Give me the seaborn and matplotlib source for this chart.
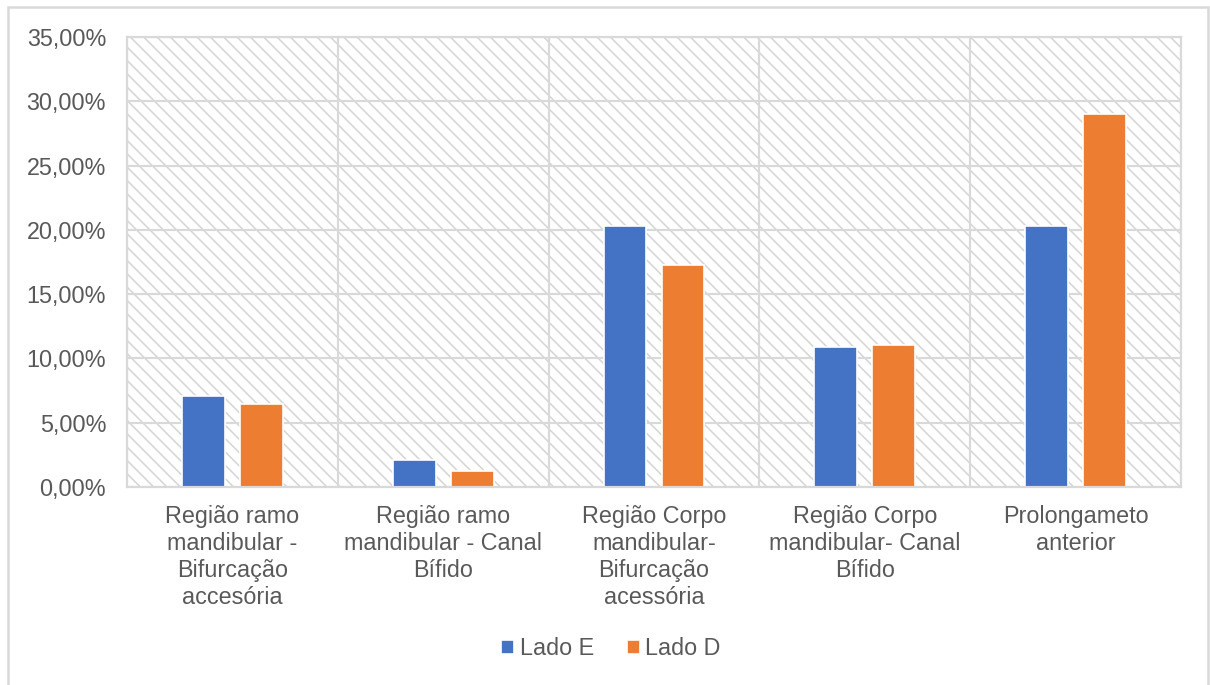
import matplotlib
matplotlib.use("Agg")
import matplotlib.pyplot as plt
from matplotlib.patches import Rectangle
from matplotlib.ticker import FuncFormatter, MultipleLocator, FixedLocator
import pandas as pd
import seaborn as sns

categorias = [
    "Região ramo\nmandibular -\nBifurcação\naccesória",
    "Região ramo\nmandibular - Canal\nBífido",
    "Região Corpo\nmandibular-\nBifurcação\nacessória",
    "Região Corpo\nmandibular- Canal\nBífido",
    "Prolongameto\nanterior",
]
lado_e = [7.10, 2.10, 20.30, 10.90, 20.30]
lado_d = [6.45, 1.25, 17.25, 11.05, 29.05]
series = ["Lado E", "Lado D"]
cores = ["#4472C4", "#ED7D31"]

df = pd.DataFrame({
    "categoria": categorias * 2,
    "valor": lado_e + lado_d,
    "lado": [series[0]] * len(categorias) + [series[1]] * len(categorias),
})

sns.set_theme(style="white")
plt.rcParams["font.family"] = ["Liberation Sans", "DejaVu Sans"]
plt.rcParams["hatch.linewidth"] = 0.9
texto = "#595959"
cinza = "#d9d9d9"

fig = plt.figure(figsize=(1210 / 120, 685 / 120), dpi=120)
ax = fig.add_axes([127 / 1210, 198 / 685, (1181 - 127) / 1210, (487 - 37) / 685])

# hatched plot area background
ax.add_patch(Rectangle((0, 0), 1, 1, transform=ax.transAxes, facecolor="white",
                       edgecolor="#d4d4d4", hatch="\\\\\\", linewidth=0, zorder=0.1))

sns.barplot(data=df, x="categoria", y="valor", hue="lado", palette=cores,
            width=0.55, gap=0.26, ax=ax, zorder=2, saturation=1)

ax.set_xlim(-0.5, len(categorias) - 0.5)
ax.set_ylim(0, 35)
ax.yaxis.set_major_locator(MultipleLocator(5))
ax.yaxis.set_major_formatter(FuncFormatter(lambda v, p: f"{v:.2f}".replace(".", ",") + "%"))
ax.xaxis.set_minor_locator(FixedLocator([i - 0.5 for i in range(len(categorias) + 1)]))

ax.set_axisbelow(True)
ax.grid(axis="y", which="major", color=cinza, linewidth=1.3)
ax.grid(axis="x", which="minor", color=cinza, linewidth=1.3)
ax.grid(axis="x", which="major", visible=False)
for s in ax.spines.values():
    s.set_color(cinza)
    s.set_linewidth(1.3)

ax.set_xlabel("")
ax.set_ylabel("")
ax.tick_params(axis="y", length=0, pad=12.5, labelsize=14, labelcolor=texto)
ax.tick_params(axis="x", which="both", length=0, pad=11, labelsize=14, labelcolor=texto)
for lbl in ax.get_xticklabels():
    lbl.set_linespacing(1.22)

handles, labels = ax.get_legend_handles_labels()
ax.get_legend().remove()
fig.legend(handles, labels, loc="center", bbox_to_anchor=(0.505, 0.053), ncol=2,
           frameon=False, fontsize=14, labelcolor=texto, handlelength=0.55,
           handleheight=0.55, handletextpad=0.25, columnspacing=1.4)

# chart frame
fig.add_artist(Rectangle((8 / 1210, -0.05), 1200 / 1210, 1.05 - 7 / 685,
                         transform=fig.transFigure, facecolor="none",
                         edgecolor=cinza, linewidth=1.5))

fig.savefig("out.png", dpi=120)
